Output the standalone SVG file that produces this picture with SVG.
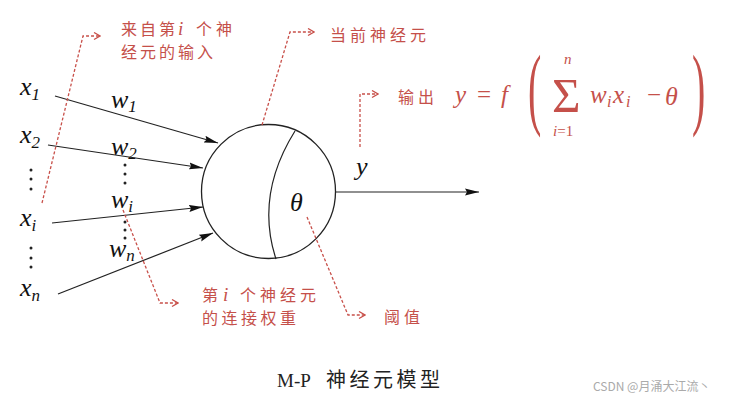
<svg xmlns="http://www.w3.org/2000/svg" width="732" height="400" viewBox="0 0 732 400">
<style>
.m{font-family:"Liberation Serif","DejaVu Serif",serif;font-style:italic;fill:#111}
.ms{font-size:26px}
.sub{font-size:17px}
.r{fill:#c5504a}
.cn{font-family:"Noto Sans CJK SC","Noto Sans",sans-serif;font-size:16px;fill:#c5504a}
.ln{stroke:#222;stroke-width:1.2;fill:none}
.ld{stroke:#c8504a;stroke-width:1.3;fill:none;stroke-dasharray:3 2}
</style>
<defs>
<marker id="ah" markerUnits="userSpaceOnUse" markerWidth="15" markerHeight="9" refX="14" refY="4.5" orient="auto">
<path d="M0,1 L14,4.5 L0,8 L2,4.5 Z" fill="#111"/>
</marker>
<marker id="rh" markerUnits="userSpaceOnUse" markerWidth="9" markerHeight="9" refX="8" refY="4.5" orient="auto">
<path d="M2,1 L8,4.5 L2,8" fill="none" stroke="#c8504a" stroke-width="1.3"/>
</marker>
</defs>
<rect width="732" height="400" fill="#fff"/>

<g id="connectors">
<line class="ln" x1="55" y1="96" x2="218" y2="143" marker-end="url(#ah)"/>
<line class="ln" x1="48" y1="145" x2="203" y2="168" marker-end="url(#ah)"/>
<line class="ln" x1="52" y1="223" x2="203" y2="207" marker-end="url(#ah)"/>
<line class="ln" x1="58" y1="294" x2="213" y2="233" marker-end="url(#ah)"/>
<line class="ln" x1="336" y1="192" x2="479" y2="192" marker-end="url(#ah)"/>
</g>

<g id="neuron">
<circle cx="268.5" cy="191.5" r="67" fill="#fff" stroke="#222" stroke-width="1.3"/>
<path class="ln" d="M295,131 Q255,195 276,259"/>
<text class="m" x="290" y="211" font-size="26">θ</text>
</g>

<g id="inputs">
<text class="m ms" x="20" y="95">x<tspan class="sub" dy="5">1</tspan></text>
<text class="m ms" x="20" y="143">x<tspan class="sub" dy="5">2</tspan></text>
<text class="m ms" x="20" y="226">x<tspan class="sub" dy="5">i</tspan></text>
<text class="m ms" x="20" y="296">x<tspan class="sub" dy="5">n</tspan></text>
<g fill="#222">
<circle cx="31" cy="170" r="1.5"/><circle cx="31" cy="179" r="1.5"/><circle cx="31" cy="189" r="1.5"/>
<circle cx="31" cy="248" r="1.5"/><circle cx="31" cy="258" r="1.5"/><circle cx="31" cy="267" r="1.5"/>
<circle cx="125" cy="165" r="1.5"/><circle cx="125" cy="174" r="1.5"/><circle cx="125" cy="183" r="1.5"/>
<circle cx="125" cy="222" r="1.5"/><circle cx="125" cy="230" r="1.5"/><circle cx="125" cy="238" r="1.5"/>
</g>
</g>

<g id="weights">
<text class="m ms" x="111" y="108">w<tspan class="sub" dy="4">1</tspan></text>
<text class="m ms" x="111" y="155">w<tspan class="sub" dy="4">2</tspan></text>
<text class="m ms" x="111" y="208">w<tspan class="sub" dy="4">i</tspan></text>
<text class="m ms" x="109" y="257">w<tspan class="sub" dy="4">n</tspan></text>
</g>

<g id="output">
<text class="m ms" x="356" y="175">y</text>
</g>

<g id="leaders">
<path class="ld" d="M42,203 L83,36 L100,36" marker-end="url(#rh)"/>
<path class="ld" d="M262,125 L290,32 L314,32" marker-end="url(#rh)"/>
<path class="ld" d="M360,147 L360,94 L378,94" marker-end="url(#rh)"/>
<path class="ld" d="M123,210 L160,303 L178,303" marker-end="url(#rh)"/>
<path class="ld" d="M307,217 L348,315 L365,315" marker-end="url(#rh)"/>
</g>

<g id="label-input">
<text class="cn" y="35"><tspan x="121">来</tspan><tspan x="140">自</tspan><tspan x="159">第</tspan><tspan x="178" font-family="Liberation Serif" font-style="italic" font-size="19">i</tspan><tspan x="196">个</tspan><tspan x="216">神</tspan></text>
<text class="cn" x="121" y="58" letter-spacing="3">经元的输入</text>
</g>

<g id="label-current">
<text class="cn" x="330" y="41" letter-spacing="4">当前神经元</text>
</g>

<g id="label-output">
<text class="cn" x="398" y="103" letter-spacing="4">输出</text>
<text class="m r" x="455" y="103" font-size="25">y</text>
<text class="r" x="477" y="103" font-size="25" font-family="Liberation Serif,serif">=</text>
<text class="m r" x="501" y="103" font-size="25">f</text>
<text class="r" transform="translate(528,118) scale(1,2.3)" font-size="40" font-family="Liberation Serif,serif">(</text>
<text class="r" x="552" y="112" font-size="49" font-family="Liberation Serif,serif">Σ</text>
<text class="m r" x="564" y="64" font-size="15">n</text>
<text class="m r" x="553" y="136" font-size="15">i<tspan font-style="normal">=1</tspan></text>
<text class="m r" y="103" font-size="25"><tspan x="590">w</tspan><tspan x="607" font-size="16" dy="4">i</tspan><tspan x="613" dy="-4">x</tspan><tspan x="626" font-size="16" dy="4">i</tspan></text>
<text class="r" x="647" y="103" font-size="25" font-family="Liberation Serif,serif">−</text>
<text class="m r" x="665" y="105" font-size="26">θ</text>
<text class="r" transform="translate(692,118) scale(1,2.3)" font-size="40" font-family="Liberation Serif,serif">)</text>
</g>

<g id="label-weight">
<text class="cn" y="301"><tspan x="202">第</tspan><tspan x="223" font-family="Liberation Serif" font-style="italic" font-size="19">i</tspan><tspan x="240">个</tspan><tspan x="260">神</tspan><tspan x="280">经</tspan><tspan x="300">元</tspan></text>
<text class="cn" x="202" y="324" letter-spacing="3.5">的连接权重</text>
</g>

<g id="label-threshold">
<text class="cn" x="384" y="323" letter-spacing="4">阈值</text>
</g>

<g id="caption">
<text x="277" y="387" font-size="19" font-family="Liberation Serif,serif" fill="#222">M-P</text>
<text x="326" y="387" font-size="20" font-family="Noto Sans CJK SC,sans-serif" letter-spacing="3.5" fill="#222">神经元模型</text>
<text x="593" y="391" font-size="12" font-family="Noto Sans CJK SC,sans-serif" fill="#aaa">CSDN @月涌大江流丶</text>
</g>
</svg>
